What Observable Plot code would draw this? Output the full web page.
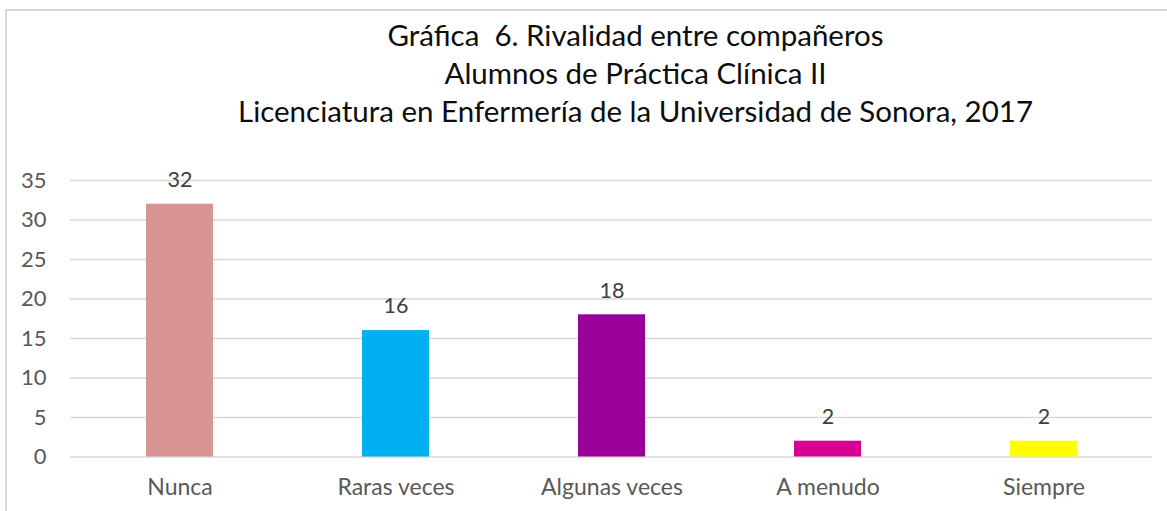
<!DOCTYPE html>
<html>
<head>
<meta charset="utf-8">
<script src="https://cdn.jsdelivr.net/npm/d3@7"></script>
<script src="https://cdn.jsdelivr.net/npm/@observablehq/plot@0.6"></script>
<style>
  html, body { margin: 0; padding: 0; background: #fff; }
  #wrap { position: relative; width: 1167px; height: 511px; overflow: hidden; font-family: Lato, "Open Sans", sans-serif; }
  #frame { position: absolute; left: 5px; top: 9px; width: 1300px; height: 600px; border-left: 2px solid #d9d9d9; border-top: 2px solid #d9d9d9; }
  #title { position: absolute; left: 0; top: 16px; width: 1271px; text-align: center; color: #0d0d0d; font-size: 29.5px; line-height: 38px; }
  #chart { position: absolute; left: 0; top: 0; }
</style>
</head>
<body>
<div id="wrap">
  <div id="frame"></div>
  <div id="title">
    <div>Gráfica&nbsp; 6. Rivalidad entre compañeros</div>
    <div>Alumnos de Práctica Clínica II</div>
    <div>Licenciatura en Enfermería de la Universidad de Sonora, 2017</div>
  </div>
  <div id="chart"></div>
</div>
<script>
const categories = ["Nunca", "Raras veces", "Algunas veces", "A menudo", "Siempre"];
const values = [32, 16, 18, 2, 2];
const colors = ["#d99594", "#00b0f0", "#990099", "#d60093", "#ffff00"];
const yTicks = [0, 5, 10, 15, 20, 25, 30, 35];

const data = categories.map((c, i) => ({category: c, value: values[i], color: colors[i]}));

const chart = Plot.plot({
  width: 1167,
  height: 511,
  marginLeft: 70,
  marginRight: 15,
  marginTop: 180,
  marginBottom: 54.5,
  style: {fontFamily: "Lato, 'Open Sans', sans-serif", background: "transparent"},
  x: {domain: categories, paddingInner: 0.69, paddingOuter: 0.345, label: null},
  y: {domain: [0, 35], label: null},
  marks: [
    Plot.gridY(yTicks, {stroke: "#d9d9d9", strokeOpacity: 1, strokeWidth: 1.5}),
    Plot.barY(data, {x: "category", y: "value", fill: "color"}),
    Plot.text(data, {x: "category", y: "value", text: d => String(d.value), dy: -24, fill: "#404040", fontSize: 21.5}),
    Plot.axisY({ticks: yTicks, tickSize: 0, tickPadding: 24, fontSize: 22, color: "#595959", label: null}),
    Plot.axisX({tickSize: 0, tickPadding: 22, fontSize: 23, color: "#595959", label: null})
  ]
});
document.getElementById("chart").appendChild(chart);
</script>
</body>
</html>
